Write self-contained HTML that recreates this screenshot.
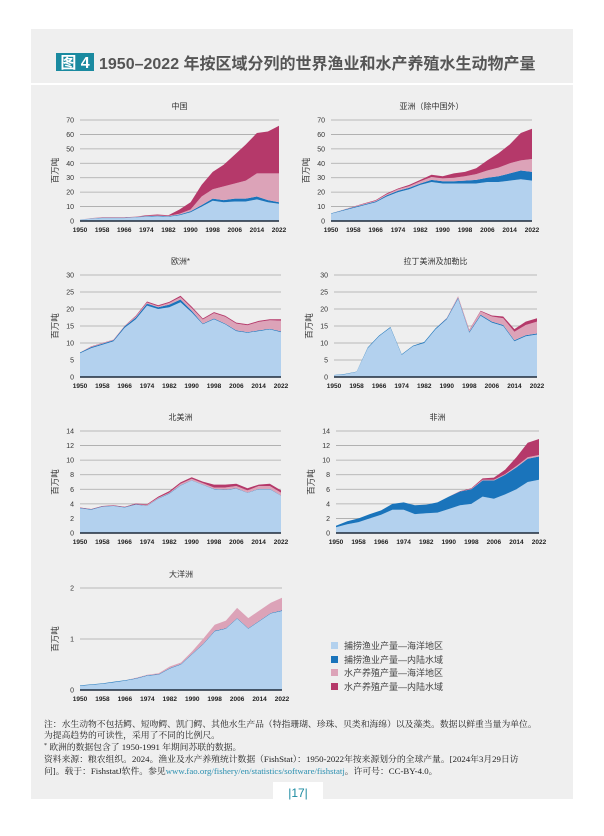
<!DOCTYPE html>
<html><head><meta charset="utf-8">
<style>
html,body{margin:0;padding:0;background:#fff;}
body{width:604px;height:831px;overflow:hidden;font-family:"Liberation Sans","Noto Sans CJK SC",sans-serif;}
svg text{font-family:"Liberation Sans","Noto Sans CJK SC",sans-serif;}
svg g.notes text{font-family:"Liberation Serif","Noto Serif CJK SC",serif;}
</style></head>
<body>
<svg id="page" width="604" height="831" viewBox="0 0 604 831" xmlns="http://www.w3.org/2000/svg">
  <rect x="31" y="29" width="542" height="770" fill="#efefef"/>
  <rect x="31" y="83" width="542" height="2" fill="#ffffff"/>
  <rect x="56" y="53" width="38" height="18" fill="#1a8aa0"/>
  <text x="75" y="68" font-size="16" font-weight="bold" fill="#fff" text-anchor="middle">图 4</text>
  <text x="99" y="69" font-size="16" font-weight="bold" fill="#555">1950–2022 年按区域分列的世界渔业和水产养殖水生动物产量</text>
  <g id="charts"></g>
  <g font-size="9" fill="#444">
    <rect x="331" y="642" width="7" height="7" fill="#b3d1ee"/>
    <text x="344" y="649">捕捞渔业产量—海洋地区</text>
    <rect x="331" y="656" width="7" height="7" fill="#1a74bb"/>
    <text x="344" y="663">捕捞渔业产量—内陆水域</text>
    <rect x="331" y="669" width="7" height="7" fill="#dca3b8"/>
    <text x="344" y="676">水产养殖产量—海洋地区</text>
    <rect x="331" y="683" width="7" height="7" fill="#b5396a"/>
    <text x="344" y="690">水产养殖产量—内陆水域</text>
  </g>
  <g class="notes" font-size="8.8" fill="#222">
    <text x="44" y="727">注：水生动物不包括鳄、短吻鳄、凯门鳄、其他水生产品（特指珊瑚、珍珠、贝类和海绵）以及藻类。数据以鲜重当量为单位。</text>
    <text x="44" y="738">为提高趋势的可读性，采用了不同的比例尺。</text>
    <text x="44" y="750"><tspan font-size="6" dy="-3">*</tspan><tspan dy="3"> 欧洲的数据包含了 1950-1991 年期间苏联的数据。</tspan></text>
    <text x="44" y="762">资料来源：粮农组织。2024。渔业及水产养殖统计数据（FishStat）：1950-2022年按来源划分的全球产量。[2024年3月29日访</text>
    <text x="44" y="774">问]。载于：FishstatJ软件。参见<tspan fill="#2a8fb0">www.fao.org/fishery/en/statistics/software/fishstatj</tspan>。许可号：CC-BY-4.0。</text>
  </g>
  <rect x="273" y="782" width="50" height="17" fill="#ffffff"/>
  <text x="298" y="797" font-size="12" fill="#1a8aa0" text-anchor="middle">|17|</text>
</svg>
<script>
const years = [1950,1954,1958,1962,1966,1970,1974,1978,1982,1986,1990,1994,1998,2002,2006,2010,2014,2018,2022];
const xTickYears = [1950,1958,1966,1974,1982,1990,1998,2006,2014,2022];
const seriesColors = ['#b3d1ee','#1a74bb','#dca3b8','#b5396a'];

const chinaMarineCapture = [0.8,1.5,2,2,2,2.5,3,3.3,3,4,6,10,14,13,13.5,13.5,15,13,12];
const chinaInlandCapture = [0.2,0.2,0.2,0.2,0.2,0.2,0.3,0.3,0.3,0.5,0.8,1,1.5,1.5,2,2,2,1.5,1];
const chinaMarineAqua = [0,0.3,0.1,0.1,0.2,0.1,0.2,0.2,0.2,0.5,1.2,6,6.5,9.5,10.5,12.5,16,18.5,20];
const chinaInlandAqua = [0,0,0.2,0.2,0.2,0.2,0.5,0.7,0.5,3,5,8,12,15,20,25,28,29,33];

const asiaMarineCapture = [5,7,9,11,13,17,20,22,25,27,26,26,26,26,27,27,28,29,28];
const asiaInlandCapture = [0.3,0.4,0.5,0.5,0.6,0.8,1,1,1,1.5,1.5,1.5,2,2.5,3,4,5,6,6];
const asiaMarineAqua = [0,0.2,0.3,0.5,0.5,0.8,1,1.2,1.5,2,2,2.5,3,4,5,6,7,7,9];
const asiaInlandAqua = [0,0,0.2,0.3,0.4,0.5,0.5,0.8,1,1.5,1.5,3,3,4,7,10,13,19,21];

const europeMarineCapture = [7,8.5,9.5,10.5,14.5,17,21,20,20.5,22,19,15.5,17,15.5,13.5,13,13.5,14,13.2];
const europeInlandCapture = [0.2,0.3,0.3,0.3,0.4,0.5,0.6,0.5,0.8,0.8,0.5,0.2,0.2,0.2,0.2,0.2,0.2,0.2,0.2];
const europeMarineAqua = [0,0.1,0.1,0.1,0.1,0.3,0.3,0.3,0.5,0.7,0.8,1.2,1.6,2,2,2,2.5,2.5,3.2];
const europeInlandAqua = [0,0.1,0.1,0.1,0.1,0.2,0.3,0.3,0.3,0.4,0.4,0.3,0.3,0.3,0.3,0.3,0.3,0.3,0.4];

const latamMarineCapture = [0.5,0.8,1.5,8.5,12,14.5,6.5,9,10,14,17,23,13,18,16,15,10.5,12,12.5];
const latamInlandCapture = [0.1,0.1,0.1,0.2,0.2,0.2,0.2,0.2,0.3,0.3,0.3,0.3,0.3,0.3,0.3,0.3,0.3,0.3,0.3];
const latamMarineAqua = [0,0,0,0,0,0,0,0,0,0,0.1,0.3,0.5,1,1.5,2,2.5,3,3.5];
const latamInlandAqua = [0,0,0,0,0,0,0,0,0,0,0,0.1,0.1,0.2,0.3,0.5,0.8,1,1];

const naMarineCapture = [3.4,3.2,3.6,3.7,3.5,3.9,3.7,4.7,5.4,6.5,7.2,6.6,6,5.9,6.1,5.5,6,6,5.1];
const naInlandCapture = [0.05,0.05,0.05,0.05,0.05,0.05,0.05,0.05,0.05,0.05,0.05,0.05,0.05,0.05,0.05,0.05,0.05,0.05,0.05];
const naMarineAqua = [0,0,0,0,0,0,0.1,0.1,0.1,0.2,0.2,0.2,0.2,0.3,0.3,0.3,0.4,0.4,0.4];
const naInlandAqua = [0.05,0.05,0.05,0.05,0.05,0.1,0.1,0.15,0.2,0.2,0.2,0.2,0.4,0.4,0.3,0.3,0.2,0.3,0.3];

const africaMarineCapture = [0.8,1.2,1.5,2,2.5,3.2,3.2,2.6,2.7,2.8,3.3,3.8,4,5,4.7,5.3,6,7,7.3];
const africaInlandCapture = [0.2,0.4,0.5,0.6,0.6,0.8,1,1.2,1.2,1.4,1.7,1.9,2,2.2,2.5,2.7,3,3.2,3.2];
const africaMarineAqua = [0,0,0,0,0,0,0,0,0,0,0,0,0.05,0.1,0.1,0.1,0.2,0.2,0.2];
const africaInlandAqua = [0,0,0,0,0,0,0,0,0,0,0,0.05,0.1,0.2,0.3,0.6,1.2,2,2.2];

const oceaniaMarineCapture = [0.08,0.1,0.12,0.15,0.18,0.22,0.28,0.3,0.42,0.5,0.7,0.9,1.15,1.2,1.4,1.2,1.35,1.5,1.55];
const oceaniaInlandCapture = [0.01,0.01,0.01,0.01,0.01,0.01,0.01,0.01,0.01,0.01,0.01,0.01,0.01,0.01,0.01,0.01,0.01,0.01,0.01];
const oceaniaMarineAqua = [0,0,0,0,0,0.01,0.01,0.02,0.03,0.03,0.05,0.1,0.12,0.15,0.2,0.2,0.2,0.2,0.25];
const oceaniaInlandAqua = [0,0,0,0,0,0,0,0,0,0,0,0,0,0,0,0,0,0,0];

const chartTitles = ['中国','亚洲（除中国外）','欧洲*','拉丁美洲及加勒比','北美洲','非洲','大洋洲'];
const chartNames = ['china','asia-excl-china','europe','latin-america-caribbean','north-america','africa','oceania'];
const chartMax = [70,70,30,30,14,14,2];
const chartStep = [10,10,5,5,2,2,1];

const layouts = [
  {x0:80,x1:279,yt:120,yb:221},{x0:331,x1:532,yt:120,yb:221},
  {x0:80,x1:281,yt:275,yb:377},{x0:334,x1:537,yt:275,yb:377},
  {x0:80,x1:281,yt:431,yb:533},{x0:336,x1:539,yt:431,yb:533},
  {x0:80,x1:282,yt:588,yb:690}
];
const data = [
  [chinaMarineCapture,chinaInlandCapture,chinaMarineAqua,chinaInlandAqua],
  [asiaMarineCapture,asiaInlandCapture,asiaMarineAqua,asiaInlandAqua],
  [europeMarineCapture,europeInlandCapture,europeMarineAqua,europeInlandAqua],
  [latamMarineCapture,latamInlandCapture,latamMarineAqua,latamInlandAqua],
  [naMarineCapture,naInlandCapture,naMarineAqua,naInlandAqua],
  [africaMarineCapture,africaInlandCapture,africaMarineAqua,africaInlandAqua],
  [oceaniaMarineCapture,oceaniaInlandCapture,oceaniaMarineAqua,oceaniaInlandAqua]
];
const seriesNames = ['marine-capture','inland-capture','marine-aquaculture','inland-aquaculture'];
const NS = 'http://www.w3.org/2000/svg';
const root = document.getElementById('charts');
function mk(tag, attrs, parent){const e=document.createElementNS(NS,tag);for(const k in attrs)e.setAttribute(k,attrs[k]);parent.appendChild(e);return e;}

data.forEach((series, ci) => {
  const L = layouts[ci];
  const max = chartMax[ci], step = chartStep[ci];
  const xs = y => L.x0 + (y-1950)/(2022-1950)*(L.x1-L.x0);
  const ys = v => L.yb - v/max*(L.yb-L.yt);
  const g = mk('g',{},root);
  
  
  const t = mk('text',{x:(L.x0+L.x1)/2,y:L.yt-11,'font-size':8,fill:'#333','text-anchor':'middle'},g);
  t.textContent = chartTitles[ci];
  
  
  for(let v=0; v<=max+1e-9; v+=step){
    const ln = mk('line',{x1:L.x0,x2:L.x1,y1:ys(v),y2:ys(v),stroke:'#a8a8a8','stroke-width':0.8},g);
    
    
    const tl = mk('text',{x:L.x0-6,y:ys(v)+2.5,'font-size':7,fill:'#333','text-anchor':'end'},g);
    tl.textContent = v;
    
    
  }
  let base = years.map(()=>0);
  series.forEach((vals, si) => {
    const top = base.map((b,i)=>b+vals[i]);
    let d = 'M' + years.map((y,i)=>xs(y).toFixed(1)+','+ys(top[i]).toFixed(1)).join('L');
    for(let i=years.length-1;i>=0;i--) d += 'L'+xs(years[i]).toFixed(1)+','+ys(base[i]).toFixed(1);
    d += 'Z';
    const p = mk('path',{d:d,fill:seriesColors[si]},g);
    
    
    base = top;
  });
  const ax = mk('line',{x1:L.x0,x2:L.x1,y1:L.yb,y2:L.yb,stroke:'#1e2a3a','stroke-width':1.5},g);
  
  
  xTickYears.forEach(y => {
    const xl = mk('text',{x:xs(y),y:L.yb+11,'font-size':6.5,'font-weight':'bold',fill:'#222','text-anchor':'middle'},g);
    xl.textContent = y;
    
    
  });
  const yx = L.x0 - 22, yy = (L.yt+L.yb)/2;
  const yl = mk('text',{x:yx,y:yy,'font-size':8.5,fill:'#333','text-anchor':'middle',transform:'rotate(-90 '+yx+' '+yy+')'},g);
  yl.textContent = '百万吨';
  
  
});
</script>
</body></html>
